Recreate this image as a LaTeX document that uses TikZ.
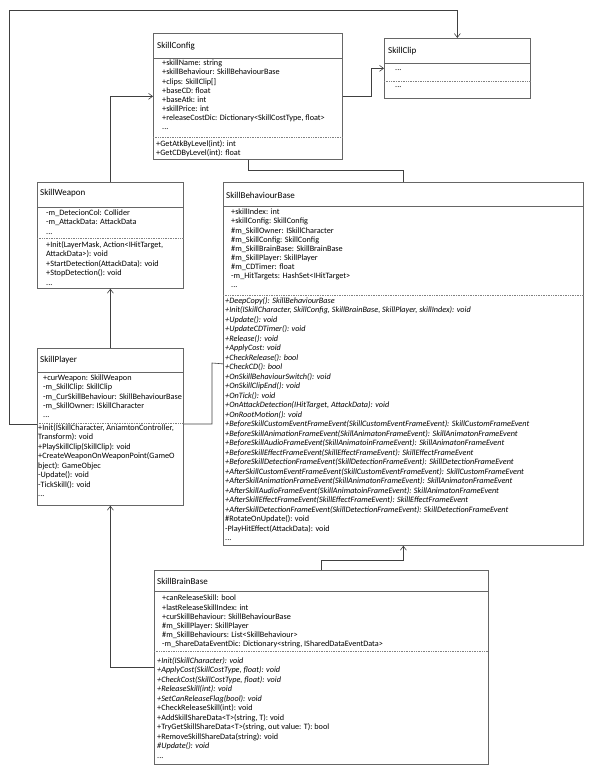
\documentclass[tikz,border=0pt]{standalone}
\usepackage{fontspec}
\setmainfont{Carlito}
\usetikzlibrary{arrows.meta, positioning}

\begin{document}
\begin{tikzpicture}[
  x=1pt, y=-1pt,
  classbox/.style={draw=black!60, line width=0.7pt, fill=white, anchor=north west, inner sep=0pt},
  ctitle/.style={anchor=west, inner sep=0pt, font=\fontsize{9}{11}\selectfont},
  attrs/.style={anchor=north west, inner sep=0pt, align=left, font=\fontsize{8.2}{9.1}\selectfont},
  meths/.style={attrs, font=\fontsize{8.2}{9.5}\selectfont},
  headline/.style={draw=black!60, line width=0.7pt},
  dotline/.style={draw=black!50, densely dotted, line width=0.7pt},
  arrow/.style={-{Straight Barb[length=4pt, width=6pt]}, draw=black!75, line width=0.6pt},
  link/.style={draw=black!75, line width=0.6pt}
]
\useasboundingbox (0,0) rectangle (593,775);

% class boxes
\node (cfg) [classbox, minimum width=189, minimum height=126] at (153,33) {};
\node (clip) [classbox, minimum width=146, minimum height=60] at (384,38) {};
\node (wpn) [classbox, minimum width=146, minimum height=106] at (37,182) {};
\node (ply) [classbox, minimum width=146, minimum height=157] at (37,348) {};
\node (beh) [classbox, minimum width=360, minimum height=363] at (223,182) {};
\node (brain) [classbox, minimum width=334, minimum height=194] at (154,570) {};

% compartments
\draw [headline] (cfg.west |- 0,58) -- (cfg.east |- 0,58);
\draw [dotline] (cfg.west |- 0,137) -- (cfg.east |- 0,137);
\draw [headline] (clip.west |- 0,63) -- (clip.east |- 0,63);
\draw [dotline] (clip.west |- 0,81) -- (clip.east |- 0,81);
\draw [headline] (wpn.west |- 0,207) -- (wpn.east |- 0,207);
\draw [dotline] (wpn.west |- 0,238) -- (wpn.east |- 0,238);
\draw [headline] (ply.west |- 0,372) -- (ply.east |- 0,372);
\draw [dotline] (ply.west |- 0,423) -- (ply.east |- 0,423);
\draw [headline] (beh.west |- 0,206) -- (beh.east |- 0,206);
\draw [dotline] (beh.west |- 0,295) -- (beh.east |- 0,295);
\draw [headline] (brain.west |- 0,591) -- (brain.east |- 0,591);
\draw [dotline] (brain.west |- 0,651) -- (brain.east |- 0,651);

% SkillConfig
\node (cfgT) [ctitle] at (157,46) {SkillConfig};
\node (cfgA) [attrs] at (162,60) {+skillName: string\\+skillBehaviour: SkillBehaviourBase\\+clips: SkillClip[]\\+baseCD: float\\+baseAtk: int\\+skillPrice: int\\+releaseCostDic: Dictionary<SkillCostType, float>\\...};
\node (cfgM) [attrs] at (156,140) {+GetAtkByLevel(int): int\\+GetCDByLevel(int): float};

% SkillClip
\node (clipT) [ctitle] at (388,51) {SkillClip};
\node (clipA) [attrs] at (395,69) {...};
\node (clipM) [attrs] at (395,86) {...};

% SkillWeapon
\node (wpnT) [ctitle] at (40,193) {SkillWeapon};
\node (wpnA) [attrs] at (46,210) {-m\_DetecionCol: Collider\\-m\_AttackData: AttackData\\...};
\node (wpnM) [meths] at (46,241) {+Init(LayerMask, Action<IHitTarget,\\AttackData>): void\\+StartDetection(AttackData): void\\+StopDetection(): void\\...};

% SkillPlayer
\node (plyT) [ctitle] at (40,360) {SkillPlayer};
\node (plyA) [attrs] at (43,375) {+curWeapon: SkillWeapon\\-m\_SkillClip: SkillClip\\-m\_CurSkillBehaviour: SkillBehaviourBase\\-m\_SkillOwner: ISkillCharacter\\...};
\node (plyM) [meths] at (38,424) {+Init(ISkillCharacter, AniamtonController,\\Transform): void\\+PlaySkillClip(SkillClip): void\\+CreateWeaponOnWeaponPoint(GameO\\bject): GameObjec\\-Update(): void\\-TickSkill(): void\\...};

% SkillBehaviourBase
\node (behT) [ctitle] at (226,195) {SkillBehaviourBase};
\node (behA) [attrs] at (231,209) {+skillIndex: int\\+skillConfig: SkillConfig\\\#m\_SkillOwner: ISkillCharacter\\\#m\_SkillConfig: SkillConfig\\\#m\_SkillBrainBase: SkillBrainBase\\\#m\_SkillPlayer: SkillPlayer\\\#m\_CDTimer: float\\-m\_HitTargets: HashSet<IHitTarget>\\...};
\node (behM) [meths] at (225,297) {\textit{+DeepCopy(): SkillBehaviourBase}\\
\textit{+Init(ISkillCharacter, SkillConfig, SkillBrainBase, SkillPlayer, skillIndex): void}\\
\textit{+Update(): void}\\
\textit{+UpdateCDTimer(): void}\\
\textit{+Release(): void}\\
\textit{+ApplyCost: void}\\
\textit{+CheckRelease(): bool}\\
\textit{+CheckCD(): bool}\\
\textit{+OnSkillBehaviourSwitch(): void}\\
\textit{+OnSkillClipEnd(): void}\\
\textit{+OnTick(): void}\\
\textit{+OnAttackDetection(IHitTarget, AttackData): void}\\
\textit{+OnRootMotion(): void}\\
\textit{+BeforeSkillCustomEventFrameEvent(SkillCustomEventFrameEvent): SkillCustomFrameEvent}\\
\textit{+BeforeSkillAnimationFrameEvent(SkillAnimatonFrameEvent): SkillAnimatonFrameEvent}\\
\textit{+BeforeSkillAudioFrameEvent(SkillAnimatoinFrameEvent): SkillAnimatonFrameEvent}\\
\textit{+BeforeSkillEffectFrameEvent(SkillEffectFrameEvent): SkillEffectFrameEvent}\\
\textit{+BeforeSkillDetectionFrameEvent(SkillDetectionFrameEvent): SkillDetectionFrameEvent}\\
\textit{+AfterSkillCustomEventFrameEvent(SkillCustomEventFrameEvent): SkillCustomFrameEvent}\\
\textit{+AfterSkillAnimationFrameEvent(SkillAnimatonFrameEvent): SkillAnimatonFrameEvent}\\
\textit{+AfterSkillAudioFrameEvent(SkillAnimatoinFrameEvent): SkillAnimatonFrameEvent}\\
\textit{+AfterSkillEffectFrameEvent(SkillEffectFrameEvent): SkillEffectFrameEvent}\\
\textit{+AfterSkillDetectionFrameEvent(SkillDetectionFrameEvent): SkillDetectionFrameEvent}\\
\#RotateOnUpdate(): void\\
-PlayHitEffect(AttackData): void\\
...};

% SkillBrainBase
\node (brainT) [ctitle] at (157,581) {SkillBrainBase};
\node (brainA) [attrs] at (162,595) {+canReleaseSkill: bool\\+lastReleaseSkillIndex: int\\+curSkillBehaviour: SkillBehaviourBase\\\#m\_SkillPlayer: SkillPlayer\\\#m\_SkillBehaviours: List<SkillBehaviour>\\-m\_ShareDataEventDic: Dictionary<string, ISharedDataEventData>};
\node (brainM) [meths] at (157,657) {\textit{+Init(ISkillCharacter): void}\\
\textit{+ApplyCost(SkillCostType, float): void}\\
\textit{+CheckCost(SkillCostType, float): void}\\
\textit{+ReleaseSkill(int): void}\\
\textit{+SetCanReleaseFlag(bool): void}\\
+CheckReleaseSkill(int): void\\
+AddSkillShareData<T>(string, T): void\\
+TryGetSkillShareData<T>(string, out value: T): bool\\
+RemoveSkillShareData(string): void\\
\textit{\#Update(): void}\\
...};

% connectors
\draw [arrow] (wpn.north) |- (cfg.west);
\draw [arrow] (cfg.east) -- ++(29,0) |- (clip.west);
\draw [link] (cfg.south) -- ++(0,11) -| (beh.north);
\draw [arrow] (ply.north) -- (wpn.south);
\draw [arrow] (ply.west |- 0,424) -| (9,10) -| (clip.north);
\draw [link] (ply.east |- 0,424) -| (212,363) -- (beh.west);
\draw [arrow] (brain.north) -- ++(0,-10) -| (beh.south);
\draw [arrow] (brain.west) -| (ply.south);

\end{tikzpicture}
\end{document}
